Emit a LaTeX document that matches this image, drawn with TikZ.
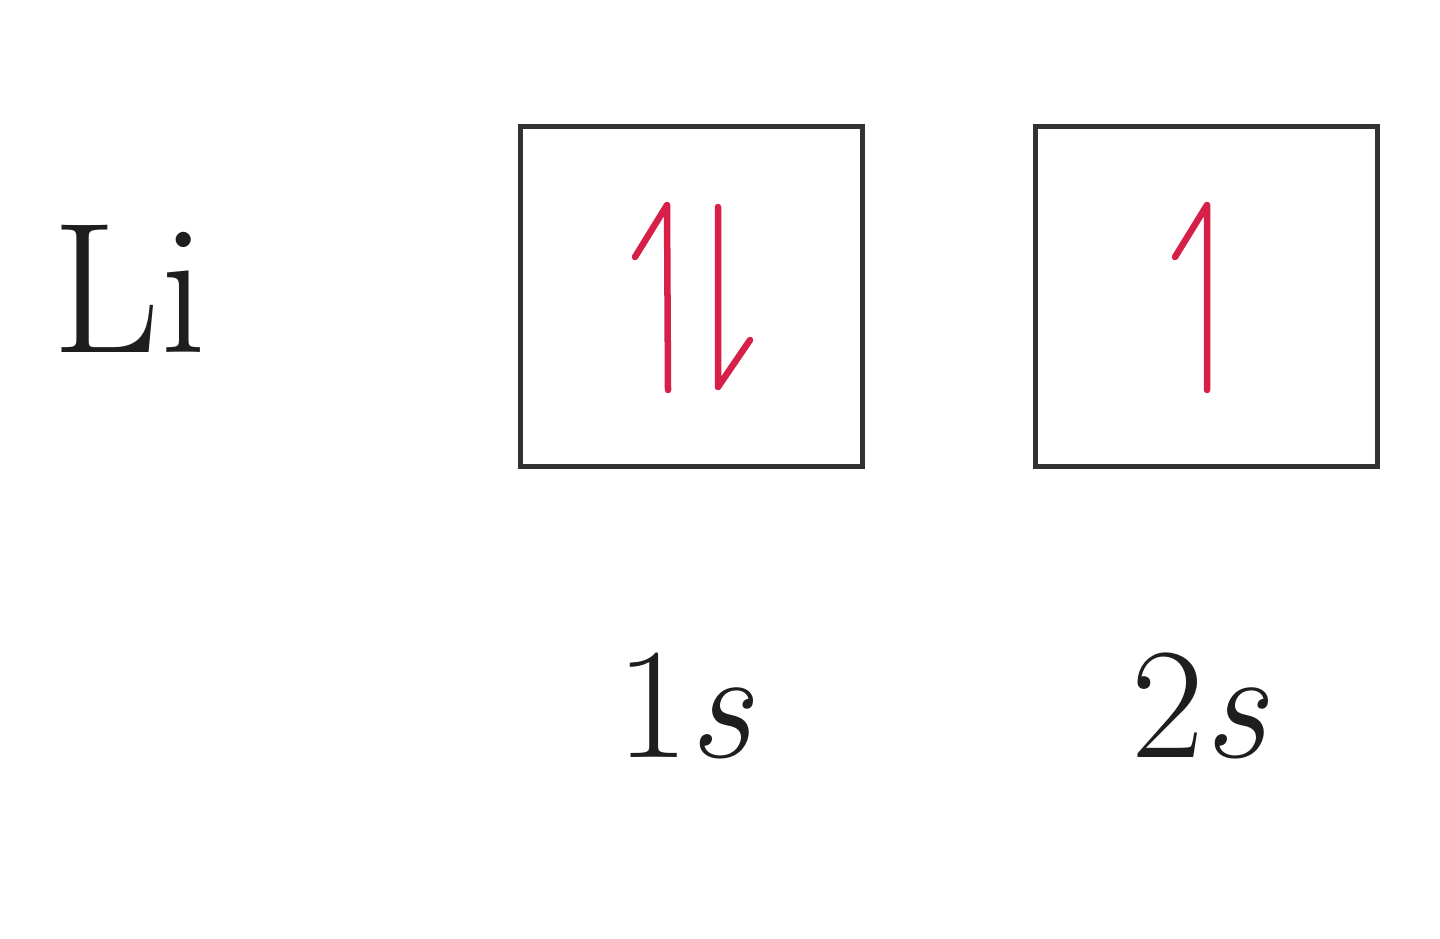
\documentclass[tikz,border=0pt]{standalone}
\usepackage{fontspec}
\usetikzlibrary{calc}
\definecolor{boxgray}{RGB}{50,50,50}
\definecolor{txtgray}{RGB}{30,30,30}
\definecolor{spinred}{RGB}{214,32,72}
\begin{document}
\begin{tikzpicture}[x=0.01cm,y=-0.01cm,
  orbital/.style={draw=boxgray,line width=0.05cm,minimum width=3.41cm,minimum height=3.39cm,inner sep=0pt},
  spin/.style={draw=spinred,line width=0.065cm,line cap=round,line join=round},
  lbl/.style={text=txtgray,inner sep=0pt,font=\fontsize{45}{50}\selectfont},
  elem/.style={text=txtgray,inner sep=0pt,font=\fontsize{53}{58}\selectfont}]
\useasboundingbox[fill=white] (0,0) rectangle (1440,938);
\node[orbital] (b1) at (691.5,296.5) {};
\node[orbital] (b2) at (1206.5,296.5) {};
\node[elem,anchor=base west] (li) at (52,352) {Li};
\node[lbl,anchor=base] (l1) at (685,757) {1\textit{s}};
\node[lbl,anchor=base] (l2) at (1200,757) {2\textit{s}};
% up spin in 1s
\draw[spin] ($(b1.center)+(-23.5,93.5)$) -- ($(b1.center)+(-24.5,-91.5)$) -- ($(b1.center)+(-56.5,-39.5)$);
% down spin in 1s
\draw[spin] ($(b1.center)+(26.5,-89.5)$) -- ($(b1.center)+(26.5,90.5)$) -- ($(b1.center)+(58.5,43.5)$);
% up spin in 2s
\draw[spin] ($(b2.center)+(0.5,93.5)$) -- ($(b2.center)+(0.5,-91.5)$) -- ($(b2.center)+(-31.5,-39.5)$);
\end{tikzpicture}
\end{document}
